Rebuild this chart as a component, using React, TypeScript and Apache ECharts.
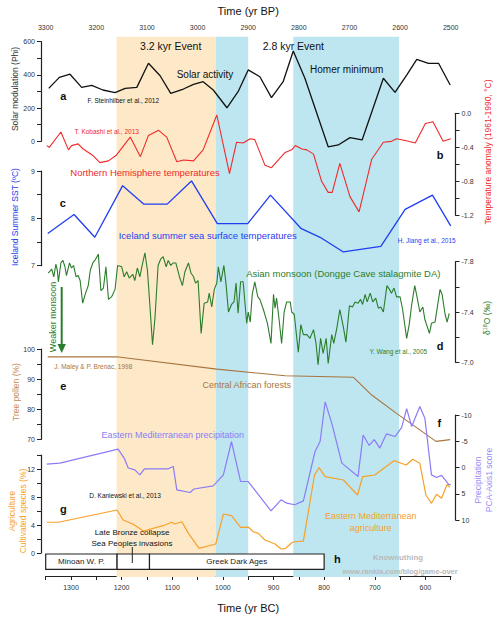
import React, { useEffect, useRef } from 'react';
import * as echarts from 'echarts';

// Time in years BC (x), values per proxy
const solarPhi: [number, number][] = [
  [1344, 319], [1323, 385], [1302, 404], [1279, 325], [1259, 337], [1237, 309], [1213, 293], [1193, 319],
  [1170, 325], [1147, 470], [1124, 395], [1103, 289], [1078, 315], [1058, 343], [1039, 359], [1019, 309],
  [992, 202], [970, 299], [950, 430], [927, 389], [904, 263], [881, 359], [861, 544], [838, 380],
  [792, -33], [772, -22], [749, 22], [725, 8], [683, 380], [660, 295], [637, 399], [617, 494],
  [594, 470], [574, 470], [551, 339],
];

const nhTemp: [number, number][] = [
  [1348, -0.38], [1343, -0.40], [1320, -0.22], [1305, -0.43], [1299, -0.38], [1286, -0.36], [1276, -0.42],
  [1256, -0.50], [1243, -0.58], [1226, -0.56], [1210, -0.49], [1183, -0.28], [1163, -0.51], [1147, -0.26],
  [1127, -0.20], [1111, -0.28], [1091, -0.57], [1078, -0.55], [1058, -0.56], [1039, -0.43], [1012, -0.02],
  [987, -0.71], [973, -0.34], [960, -0.35], [946, -0.30], [937, -0.31], [917, -0.61], [904, -0.64],
  [877, -0.46], [864, -0.43], [857, -0.38], [844, -0.42], [834, -0.43], [821, -0.48], [805, -0.80],
  [792, -0.93], [784, -0.93], [769, -0.59], [749, -0.98], [731, -1.16], [706, -0.54], [683, -0.34],
  [667, -0.33], [657, -0.30], [640, -0.32], [620, -0.35], [600, -0.12], [585, -0.10], [565, -0.33], [550, -0.30],
];

const icelandSST: [number, number][] = [
  [1346, 7.68], [1294, 8.08], [1253, 7.60], [1198, 8.69], [1156, 8.30], [1110, 8.30], [1062, 8.79],
  [1011, 7.89], [951, 7.89], [906, 8.49], [846, 7.79], [808, 7.60], [762, 7.29], [688, 7.41],
  [640, 8.19], [586, 8.49], [550, 7.84],
];

const donggeD18O: [number, number][] = [
  [1345, -7.71], [1338, -7.74], [1334, -7.68], [1330, -7.78], [1327, -7.73], [1325, -7.64], [1320, -7.79],
  [1316, -7.81], [1312, -7.76], [1309, -7.69], [1303, -7.79], [1299, -7.75], [1295, -7.77], [1290, -7.68],
  [1286, -7.69], [1282, -7.65], [1277, -7.47], [1272, -7.54], [1266, -7.61], [1262, -7.73], [1257, -7.79],
  [1253, -7.81], [1246, -7.86], [1241, -7.57], [1236, -7.59], [1231, -7.76], [1226, -7.50], [1220, -7.52],
  [1213, -7.58], [1208, -7.77], [1200, -7.76], [1195, -7.68], [1190, -7.72], [1185, -7.67], [1178, -7.70],
  [1174, -7.65], [1169, -7.75], [1164, -7.68], [1160, -7.76], [1154, -7.87], [1149, -7.73], [1144, -7.44],
  [1139, -7.14], [1134, -7.36], [1128, -7.77], [1123, -7.82], [1118, -7.84], [1112, -7.76], [1108, -7.81],
  [1103, -7.77], [1098, -7.79], [1093, -7.79], [1085, -7.67], [1080, -7.61], [1075, -7.72], [1068, -7.79],
  [1063, -7.71], [1058, -7.68], [1054, -7.63], [1049, -7.65], [1043, -7.23], [1037, -7.47], [1030, -7.48],
  [1027, -7.55], [1022, -7.44], [1017, -7.58], [1012, -7.63], [1009, -7.76], [1004, -7.64], [998, -7.77],
  [994, -7.63], [989, -7.40], [983, -7.46], [978, -7.48], [974, -7.63], [970, -7.39], [965, -7.64],
  [960, -7.64], [953, -7.31], [950, -7.40], [946, -7.32], [942, -7.54], [937, -7.64], [931, -7.52],
  [927, -7.50], [920, -7.42], [912, -7.31], [905, -7.15], [900, -7.54], [897, -7.43], [894, -7.51],
  [889, -7.34], [884, -7.15], [879, -7.40], [874, -7.48], [867, -7.48], [864, -7.40], [859, -7.38],
  [851, -7.08], [846, -7.30], [841, -7.22], [834, -7.22], [828, -7.19], [821, -7.26], [816, -7.15],
  [812, -6.98], [807, -7.19], [802, -7.07], [796, -7.19], [792, -6.99], [785, -7.22], [781, -7.15],
  [775, -7.27], [769, -7.42], [762, -7.28], [757, -7.16], [750, -7.45], [744, -7.44], [739, -7.48],
  [733, -7.47], [728, -7.50], [724, -7.46], [719, -7.54], [715, -7.48], [709, -7.55], [704, -7.48],
  [698, -7.51], [693, -7.43], [688, -7.44], [683, -7.40], [676, -7.61], [671, -7.58], [667, -7.55],
  [662, -7.59], [657, -7.52], [650, -7.52], [645, -7.42], [637, -7.19], [632, -7.30], [627, -7.46],
  [621, -7.61], [616, -7.51], [611, -7.40], [605, -7.44], [601, -7.34], [592, -7.23], [588, -7.31],
  [581, -7.32], [571, -7.58], [567, -7.54], [561, -7.38], [557, -7.32], [553, -7.39],
];

const treePollen: [number, number][] = [
  [1346, 97.4], [1210, 97.4], [1012, 93.3], [877, 91.1], [742, 90.6], [706, 84.7], [657, 78.6], [579, 69.3], [551, 69.9],
];

const precipPCA: [number, number][] = [
  [1348, -0.65], [1322, -0.84], [1207, -3.5], [1195, -1.8], [1187, 0.1], [1174, 0.44], [1164, 1.4],
  [1155, 0.25], [1108, 0.25], [1098, -0.2], [1091, 4.25], [1065, 4.76], [1057, 4.1], [1019, 3.5],
  [999, 1.4], [983, -4.95], [965, 2.67], [950, 2.67], [905, 8.25], [885, 6.15], [874, 6.8], [858, 7.1],
  [841, 6.35], [818, -3.05], [808, -4.95], [798, -12.5], [785, -8.45], [765, -0.84], [733, 1.7],
  [723, -6.2], [711, -4.2], [701, -5.3], [690, -3.7], [677, -6.4], [660, -5.9], [647, -7.6], [637, -11.2],
  [627, -7.8], [611, -11.6], [601, -9.4], [588, 1.4], [578, 1.9], [568, 1.5], [554, 3.2], [550, 3.3],
];

const cultivated: [number, number][] = [
  [1348, 4.39], [1325, 4.39], [1209, 6.14], [1197, 4.71], [1177, 4.1], [1157, 3.14], [1118, 3.9],
  [1101, 4.39], [1095, 4.14], [1081, 4.47], [1068, 2.81], [1047, 0.67], [1014, 1.29], [999, 5.57],
  [983, 5.33], [965, 3.67], [950, 3.71], [940, 3.04], [930, 2.81], [917, 1.86], [897, 1.29], [885, 0.57],
  [876, 0.67], [864, 1.47], [858, 1.61], [841, 1.71], [819, 11.14], [810, 12.19], [798, 10.9],
  [762, 10.43], [734, 8.29], [724, 10.9], [700, 11.14], [662, 13.19], [638, 12.57], [625, 13.39],
  [611, 12.81], [599, 8.29], [588, 7.1], [578, 8.39], [568, 7.81], [557, 9.81], [552, 9.39],
];

// Shaded events [fromBC, toBC, kind]
const eventBands: [number, number, string][] = [
  [1210, 1014, 'orange'],
  [1014, 950, 'blue'],
  [861, 652, 'blue'],
];

// Historical periods [name, fromBC, toBC]
const periods: [string, number, number][] = [
  ['Minoan W. P.', 1350, 1209],
  ['', 1209, 1145],
  ['Greek Dark Ages', 1145, 800],
];

const FONT = 'Liberation Sans, Arial, sans-serif';
const AX = '#222';

export default function App() {
  const ref = useRef<HTMLDivElement>(null);
  useEffect(() => {
    if (!ref.current) return;
    const chart = echarts.init(ref.current, undefined, { renderer: 'svg' });
    const L = 45.7;
    const R = 49.3;
    const grids = [
      { top: 36.7, height: 540.3 }, // 0 bands
      { top: 33.3, height: 545 }, // 1 time axes
      { top: 41.7, height: 99.6 }, // 2 solar
      { top: 113.3, height: 102 }, // 3 temperature
      { top: 171, height: 94.7 }, // 4 SST
      { top: 261.7, height: 100.6 }, // 5 d18O
      { top: 349, height: 90.3 }, // 6 pollen
      { top: 415, height: 105 }, // 7 precipitation
      { top: 455, height: 98 }, // 8 agriculture
      { top: 554, height: 15.3 }, // 9 periods
    ].map((g) => ({ left: L, right: R, top: g.top, height: g.height }));

    const hiddenX = (gi: number) => ({ gridIndex: gi, type: 'value', min: 550, max: 1350, inverse: true, show: false });
    const xAxis: any[] = [
      hiddenX(0),
      {
        gridIndex: 1, type: 'value', position: 'top', min: 2500, max: 3300, interval: 50, inverse: true,
        name: 'Time (yr BP)', nameLocation: 'middle', nameGap: 20,
        nameTextStyle: { fontSize: 11, color: '#111', fontFamily: FONT },
        axisLine: { show: true, lineStyle: { color: AX, width: 1.2 } },
        axisTick: { show: true, inside: true, length: 4, lineStyle: { color: AX, width: 1 } },
        axisLabel: { fontSize: 7, color: '#333', margin: 5, formatter: (v: number) => (v % 100 === 0 ? String(v) : '') },
        splitLine: { show: false },
      },
      {
        gridIndex: 1, type: 'value', position: 'bottom', min: 550, max: 1350, interval: 50, inverse: true,
        name: 'Time (yr BC)', nameLocation: 'middle', nameGap: 26,
        nameTextStyle: { fontSize: 11, color: '#111', fontFamily: FONT },
        axisLine: { show: true, lineStyle: { color: AX, width: 1.2 } },
        axisTick: { show: true, length: 4, lineStyle: { color: AX, width: 1 } },
        axisLabel: { fontSize: 7, color: '#333', margin: 8, formatter: (v: number) => (v % 100 === 0 ? String(v) : '') },
        splitLine: { show: false },
      },
      hiddenX(2), hiddenX(3), hiddenX(4), hiddenX(5), hiddenX(6), hiddenX(7), hiddenX(8), hiddenX(9),
    ];

    const valAxis = (gi: number, pos: string, min: number, max: number, interval: number, fmt: (v: number) => string, inverse = false) => ({
      gridIndex: gi, type: 'value', position: pos, offset: pos === 'left' ? 4.7 : 4.8, min, max, interval, inverse,
      axisLine: { show: true, lineStyle: { color: AX, width: 1.2 } },
      axisTick: { show: true, length: 4, lineStyle: { color: AX, width: 1 } },
      axisLabel: { fontSize: 7, color: '#333', margin: 6, formatter: fmt },
      splitLine: { show: false },
    });
    const hiddenY = (gi: number) => ({ gridIndex: gi, type: 'value', min: 0, max: 1, show: false });
    const yAxis: any[] = [
      hiddenY(0),
      hiddenY(1),
      valAxis(2, 'left', 0, 600, 100, (v) => (v % 200 === 0 ? String(v) : '')),
      valAxis(3, 'right', -1.2, 0, 0.2, (v) => (Math.round(v * 10) % 4 === 0 ? v.toFixed(1) : '')),
      valAxis(4, 'left', 7, 9, 0.5, (v) => (v % 1 === 0 ? String(v) : '')),
      valAxis(5, 'right', -7.8, -7.0, 0.2, (v) => (Math.round(v * 10) % 4 !== 0 ? v.toFixed(1) : ''), true),
      valAxis(6, 'left', 70, 100, 5, (v) => (v % 10 === 0 ? String(v) : '')),
      valAxis(7, 'right', -10, 10, 5, (v) => String(v), true),
      valAxis(8, 'left', 0, 14, 2, (v) => (v % 4 === 0 ? String(v) : '')),
      hiddenY(9),
    ];

    const line = (data: [number, number][], idx: number, color: string, width: number) => ({
      type: 'line', data, xAxisIndex: idx + 1, yAxisIndex: idx, showSymbol: false, symbol: 'none',
      clip: false, z: 3, lineStyle: { color, width }, itemStyle: { color },
    });

    const bandColor: Record<string, string> = { orange: '#fde9c8', blue: '#bee6f0' };

    const txt = (text: string, x: number, y: number, size: number, color: string, extra: any = {}) => ({
      type: 'text', x, y, z: 100, rotation: extra.rotation || 0,
      style: {
        text, fill: color, fontSize: size, fontFamily: FONT, fontWeight: extra.bold ? 'bold' : 'normal',
        align: 'center', verticalAlign: 'middle', textAlign: 'center', textVerticalAlign: 'middle',
        lineHeight: extra.lineHeight || size * 1.25, rich: extra.rich,
      },
    });
    const R90 = Math.PI / 2;
    const green = '#2b7d2b';

    chart.setOption({
      animation: false,
      textStyle: { fontFamily: FONT },
      grid: grids,
      xAxis,
      yAxis,
      series: [
        {
          type: 'line', xAxisIndex: 0, yAxisIndex: 0, data: [], z: 1,
          markArea: {
            silent: true,
            data: eventBands.map(([a, b, k]) => [
              { xAxis: a, itemStyle: { color: bandColor[k], opacity: 1 } },
              { xAxis: b },
            ]),
          },
        },
        line(solarPhi, 2, '#111', 1.3),
        line(nhTemp, 3, '#f02a2a', 1.1),
        line(icelandSST, 4, '#1f3df2', 1.3),
        line(donggeD18O, 5, green, 1.1),
        line(treePollen, 6, '#a8753f', 1.1),
        line(precipPCA, 7, '#8b7cf6', 1.2),
        line(cultivated, 8, '#f6a12a', 1.2),
        {
          type: 'line', xAxisIndex: 10, yAxisIndex: 9, data: [], z: 5,
          markArea: {
            silent: true,
            itemStyle: { color: '#fff', borderColor: '#222', borderWidth: 1.2, opacity: 1 },
            label: { show: true, position: 'inside', color: '#222', fontSize: 8, fontFamily: FONT },
            data: periods.map(([n, a, b]) => [{ name: n, xAxis: a }, { xAxis: b }]),
          },
        },
      ],
      graphic: [
        txt('3.2 kyr Event', 170.7, 46, 10.5, '#111'),
        txt('2.8 kyr Event', 293.3, 46, 10.5, '#111'),
        txt('Solar activity', 205, 74.3, 10, '#111'),
        txt('Homer minimum', 346.7, 69.3, 10, '#111'),
        txt('a', 63.3, 95.7, 11, '#111', { bold: true }),
        txt('F. Steinhilber et al., 2012', 123.3, 100, 6.5, '#111'),
        txt('T. Kobashi et al., 2013', 106.7, 131.7, 6.5, '#f02a2a'),
        txt('b', 440, 155, 11, '#111', { bold: true }),
        txt('Northern Hemisphere temperatures', 145, 172.3, 9.5, '#f02a2a'),
        txt('c', 62.7, 203.3, 11, '#111', { bold: true }),
        txt('Iceland summer sea surface temperatures', 207.7, 235.3, 9.5, '#1f3df2'),
        txt('H. Jiang et al., 2015', 426.7, 240.7, 6.5, '#1f3df2'),
        txt('Asian monsoon (Dongge Cave stalagmite DA)', 343.3, 273.3, 9.5, green),
        txt('Weaker monsoon', 53.3, 317, 9, green, { rotation: R90 }),
        { type: 'line', z: 100, shape: { x1: 61.7, y1: 287, x2: 61.7, y2: 346 }, style: { stroke: green, lineWidth: 2 } },
        { type: 'polygon', z: 100, shape: { points: [[57.5, 344], [65.9, 344], [61.7, 353]] }, style: { fill: green } },
        txt('d', 440, 346, 11, '#111', { bold: true }),
        txt('Y. Wang et al., 2005', 398.3, 351.7, 6.5, green),
        txt('J. Maley & P. Brenac, 1998', 93.3, 366, 6.5, '#a8753f'),
        txt('e', 63.3, 385.7, 11, '#111', { bold: true }),
        txt('Central African forests', 246.7, 385, 9, '#a8753f'),
        txt('f', 439.3, 422.7, 11, '#111', { bold: true }),
        txt('Eastern Mediterranean precipitation', 172.7, 435, 9, '#8b7cf6'),
        txt('D. Kaniewski et al., 2013', 125, 495, 6.5, '#111'),
        txt('g', 63.3, 509.3, 11, '#111', { bold: true }),
        txt('Eastern Mediterranean\nagriculture', 370.7, 522, 9, '#f6a12a', { lineHeight: 12.3 }),
        txt('Late Bronze collapse\nSea Peoples invasions', 132, 538, 8, '#111', { lineHeight: 10.6 }),
        { type: 'line', z: 100, shape: { x1: 132.3, y1: 547, x2: 132.3, y2: 563 }, style: { stroke: '#222', lineWidth: 1 } },
        txt('h', 337.3, 559, 11, '#111', { bold: true }),
        txt('Knownuthing', 398, 557.5, 7.8, '#b9b9b9', { bold: true }),
        txt('www.rankia.com/blog/game-over', 400, 571, 7.4, '#b9b9b9', { bold: true }),
        // axis titles
        txt('Solar modulation (Phi)', 15, 89, 8.5, '#333', { rotation: R90 }),
        txt('Temperature anomaly (1961-1990, °C)', 488, 152, 8.5, '#f02a2a', { rotation: R90 }),
        txt('Iceland Summer SST (ºC)', 15, 217, 8.5, '#1f3df2', { rotation: R90 }),
        txt('δ{s|18}O (‰)', 487, 318, 8.5, green, { rotation: R90, rich: { s: { fontSize: 5.5, verticalAlign: 'top', fill: green, padding: [0, 0, 4, 0] } } }),
        txt('Tree pollen (%)', 16, 392, 8.5, '#c48a52', { rotation: R90 }),
        txt('Precipitation\nPCA-Axis1 score', 483.5, 480, 8.5, '#9a8cf6', { rotation: R90, lineHeight: 11 }),
        txt('Agriculture\nCultivated species (%)', 17.5, 511, 8.5, '#f6a12a', { rotation: R90, lineHeight: 11 }),
      ],
    });
    return () => chart.dispose();
  }, []);
  return <div ref={ref} style={{ position: 'fixed', left: 0, top: 0, width: 500, height: 618, background: '#fff' }} />;
}
